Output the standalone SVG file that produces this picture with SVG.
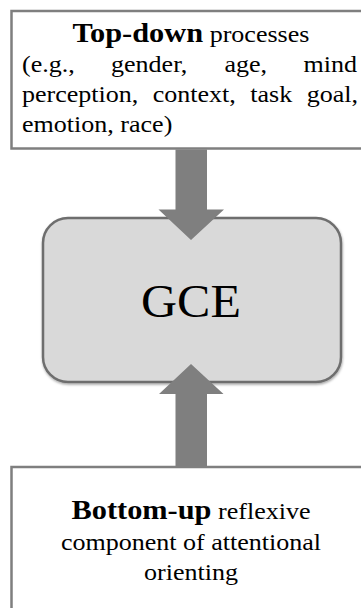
<svg xmlns="http://www.w3.org/2000/svg" width="361" height="608" viewBox="0 0 361 608">
<defs>
<filter id="sh" x="-10%" y="-10%" width="120%" height="125%">
<feDropShadow dx="0.5" dy="1.5" stdDeviation="1.2" flood-color="#000" flood-opacity="0.35"/>
</filter>
</defs>
<style>
.box{fill:#ffffff;stroke:#7f7f7f;stroke-width:2.5}
.core{fill:#d9d9d9;stroke:#6e6e6e;stroke-width:2.5}
.arr{fill:#7f7f7f}
text{font-family:"Liberation Serif","Times New Roman",serif;fill:#000;font-size:24px}
.b{font-weight:bold;font-size:28px}
</style>
<rect width="361" height="608" fill="#ffffff"/>
<g id="top-down">
<rect class="box" x="11.5" y="11" width="360" height="137.5"/>
<g transform="matrix(1.085,0,0,1,-16.235,0)">
<text x="191" y="42" text-anchor="middle"><tspan class="b">Top-down</tspan> processes</text>
<text x="35.24" y="72">(e.g.,</text>
<text x="117.27" y="72">gender,</text>
<text x="221.88" y="72">age,</text>
<text x="344" y="72" text-anchor="end">mind</text>
<text x="35.24" y="102">perception,</text>
<text x="155.7" y="102">context,</text>
<text x="245.6" y="102">task</text>
<text x="344.9" y="102" text-anchor="end">goal,</text>
<text x="35.24" y="132">emotion, race)</text>
</g>
</g>
<g id="gce">
<rect class="core" x="43" y="218" width="298" height="164" rx="25" ry="25" filter="url(#sh)"/>
<g transform="matrix(1.085,0,0,1,-16.235,0)">
<text x="191" y="317" text-anchor="middle" style="font-size:46px">GCE</text>
</g>
</g>
<g id="bottom-up">
<rect class="box" x="11.5" y="467" width="360" height="150"/>
<g transform="matrix(1.085,0,0,1,-16.235,0)">
<text x="191" y="519" text-anchor="middle"><tspan class="b">Bottom-up</tspan> reflexive</text>
<text x="191" y="550" text-anchor="middle">component of attentional</text>
<text x="191" y="580" text-anchor="middle">orienting</text>
</g>
</g>
<g id="connectors">
<polygon class="arr" points="175.5,149.5 207,149.5 207,209.5 224,209.5 191,240 158.5,209.5 175.5,209.5"/>
<polygon class="arr" points="191,364 223.5,394 207,394 207,466 175.5,466 175.5,394 159,394"/>
</g>
</svg>
